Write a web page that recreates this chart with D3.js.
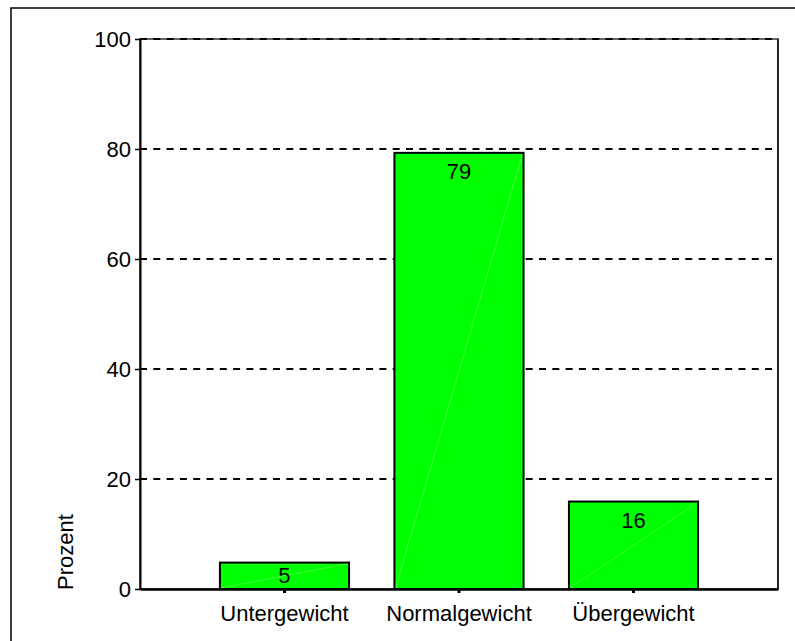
<!DOCTYPE html>
<html>
<head>
<meta charset="utf-8">
<script src="https://cdn.jsdelivr.net/npm/d3@7"></script>
<style>
  body { margin: 0; background: #fff; }
  text { font-family: "Liberation Sans", Arial, sans-serif; fill: #000; }
</style>
</head>
<body>
<div id="chart"></div>
<script>
// data
var categories = ["Untergewicht", "Normalgewicht", "Übergewicht"];
var percents = [4.8, 79.3, 15.9];
var valueLabels = ["5", "79", "16"];
var yTicks = [0, 20, 40, 60, 80, 100];

var svgwidth = 795;
var svgheight = 641;
var plot = { left: 140, right: 778, top: 39, bottom: 589 };

var svg = d3.select("#chart").append("svg")
    .attr("width", svgwidth).attr("height", svgheight);

// outer frame (runs off the right and bottom edges)
svg.append("rect")
    .attr("x", 11).attr("y", 8)
    .attr("width", 900).attr("height", 800)
    .attr("fill", "none").attr("stroke", "#000").attr("stroke-width", 1.5);

var x = d3.scaleBand()
    .domain(categories)
    .range([plot.left, plot.right])
    .paddingInner(0.26)
    .paddingOuter(0.458);

var y = d3.scaleLinear()
    .domain([0, 100])
    .range([plot.bottom, plot.top]);

// plot frame
svg.append("rect")
    .attr("x", plot.left).attr("y", plot.top)
    .attr("width", plot.right - plot.left).attr("height", plot.bottom - plot.top)
    .attr("fill", "none").attr("stroke", "#666").attr("stroke-width", 2);
svg.append("line")
    .attr("x1", plot.right).attr("x2", plot.right)
    .attr("y1", plot.top).attr("y2", plot.bottom)
    .attr("stroke", "#111").attr("stroke-width", 1.5);

// dashed grid lines
svg.append("g").selectAll("line")
    .data(yTicks.filter(d => d > 0))
    .enter().append("line")
    .attr("x1", plot.left).attr("x2", plot.right)
    .attr("y1", d => y(d)).attr("y2", d => y(d))
    .attr("stroke", "#000").attr("stroke-width", 2)
    .attr("stroke-dasharray", "7,6.3");

// bars
var bars = svg.append("g").selectAll("g")
    .data(percents)
    .enter().append("g");

bars.append("rect")
    .attr("x", (d, i) => x(categories[i]))
    .attr("y", d => y(d))
    .attr("width", x.bandwidth())
    .attr("height", d => y(0) - y(d))
    .attr("fill", "#00ff00")
    .attr("stroke", "#000").attr("stroke-width", 2);

// faint diagonal seam inside each bar
bars.append("line")
    .attr("x1", (d, i) => x(categories[i]) + 1)
    .attr("y1", y(0) - 1)
    .attr("x2", (d, i) => x(categories[i]) + x.bandwidth() - 1)
    .attr("y2", d => y(d) + 1)
    .attr("stroke", "#fff").attr("stroke-opacity", 0.35).attr("stroke-width", 0.7);

bars.append("text")
    .attr("text-anchor", "middle")
    .attr("x", (d, i) => x(categories[i]) + x.bandwidth() / 2)
    .attr("y", d => Math.min(y(d) + 26, y(0) - 6))
    .style("font-size", "22px")
    .text((d, i) => valueLabels[i]);

// y axis
var leftAxis = d3.axisLeft(y).tickValues(yTicks).tickSize(5).tickSizeOuter(0).tickPadding(4);
var gy = svg.append("g")
    .attr("transform", "translate(" + plot.left + ",0)")
    .call(leftAxis);
gy.select(".domain").attr("stroke", "#000").attr("stroke-width", 2);
gy.selectAll(".tick line").attr("stroke", "#000").attr("stroke-width", 1.5);
gy.selectAll(".tick text")
    .style("font-size", "22px").style("font-family", "Liberation Sans, Arial, sans-serif")
    .attr("fill", "#000").attr("dy", "0.36em");

// x axis
var bottomAxis = d3.axisBottom(x).tickSize(4).tickSizeOuter(0).tickPadding(12);
var gx = svg.append("g")
    .attr("transform", "translate(0," + plot.bottom + ")")
    .call(bottomAxis);
gx.select(".domain").attr("stroke", "#000").attr("stroke-width", 2.5);
gx.selectAll(".tick line").attr("stroke", "#000").attr("stroke-width", 3);
gx.selectAll(".tick text")
    .style("font-size", "22px").style("font-family", "Liberation Sans, Arial, sans-serif")
    .attr("fill", "#000").attr("dy", "0.71em");

// y axis title
svg.append("text")
    .attr("transform", "translate(73," + (plot.bottom + 1) + ") rotate(-90)")
    .attr("text-anchor", "start")
    .style("font-size", "22px")
    .text("Prozent");
</script>
</body>
</html>
